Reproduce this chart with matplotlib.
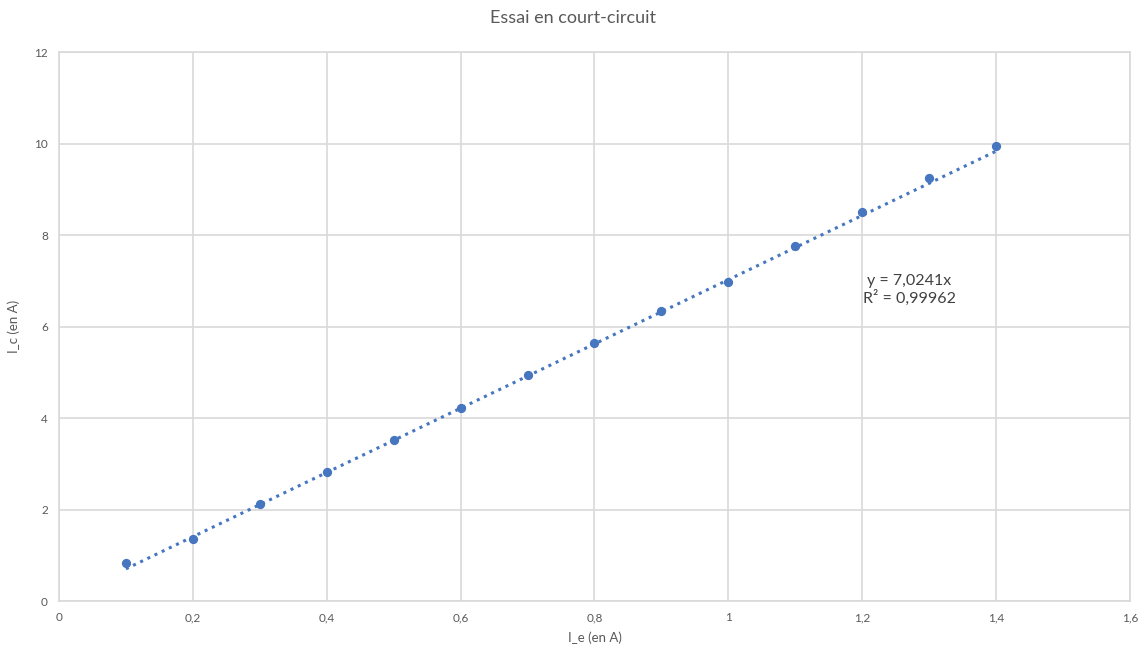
"""Essai en court-circuit: I_c en fonction de I_e, avec droite de tendance."""

import matplotlib
import numpy as np

matplotlib.use("Agg")
import matplotlib.pyplot as plt

I_E = [0.1, 0.2, 0.3, 0.4, 0.5, 0.6, 0.7, 0.8, 0.9, 1.0, 1.1, 1.2, 1.3, 1.4]
I_C = [0.83, 1.36, 2.12, 2.83, 3.53, 4.23, 4.93, 5.63, 6.33, 6.97, 7.76, 8.50, 9.24, 9.94]
SLOPE = 7.0241
R2 = 0.99962

X_TICKS = [0, 0.2, 0.4, 0.6, 0.8, 1.0, 1.2, 1.4, 1.6]
Y_TICKS = [0, 2, 4, 6, 8, 10, 12]

BLUE = "#4676c0"
GRID = "#d9d9d9"
TEXT = "#595959"

plt.rcParams["font.family"] = ["Lato", "DejaVu Sans"]


def fr(value):
    return f"{value:g}".replace(".", ",")


figure = plt.figure(figsize=(11.45, 6.59), dpi=100)
axis = figure.add_axes([0.0515, 0.088, 0.9354, 0.833])

x = np.array(I_E)
axis.plot(x, SLOPE * x, linestyle=(0, (1, 1.6)), linewidth=2.2, color=BLUE, zorder=2)
axis.scatter(I_E, I_C, s=32, color=BLUE, zorder=3)

axis.set_xlim(0, 1.6)
axis.set_ylim(0, 12)
axis.set_xticks(X_TICKS, [fr(v) for v in X_TICKS])
axis.set_yticks(Y_TICKS, [fr(v) for v in Y_TICKS])
axis.tick_params(length=0, labelsize=8.5, colors=TEXT, pad=8)
axis.grid(color=GRID, linewidth=1.2, zorder=0)
axis.set_axisbelow(True)
for spine in axis.spines.values():
    spine.set_color(GRID)
    spine.set_linewidth(1.2)

axis.set_xlabel("I_e (en A)", fontsize=9.5, color=TEXT, labelpad=6)
axis.set_ylabel("I_c (en A)", fontsize=9.5, color=TEXT, labelpad=10)
figure.suptitle("Essai en court-circuit", fontsize=13, color=TEXT, y=0.985)

axis.text(1.27, 6.8, f"y = {fr(SLOPE)}x\nR² = {fr(R2)}", fontsize=11.5, color="#404040",
          ha="center", va="center", linespacing=1.2)

figure.savefig("out.png", dpi=100, facecolor="white")
